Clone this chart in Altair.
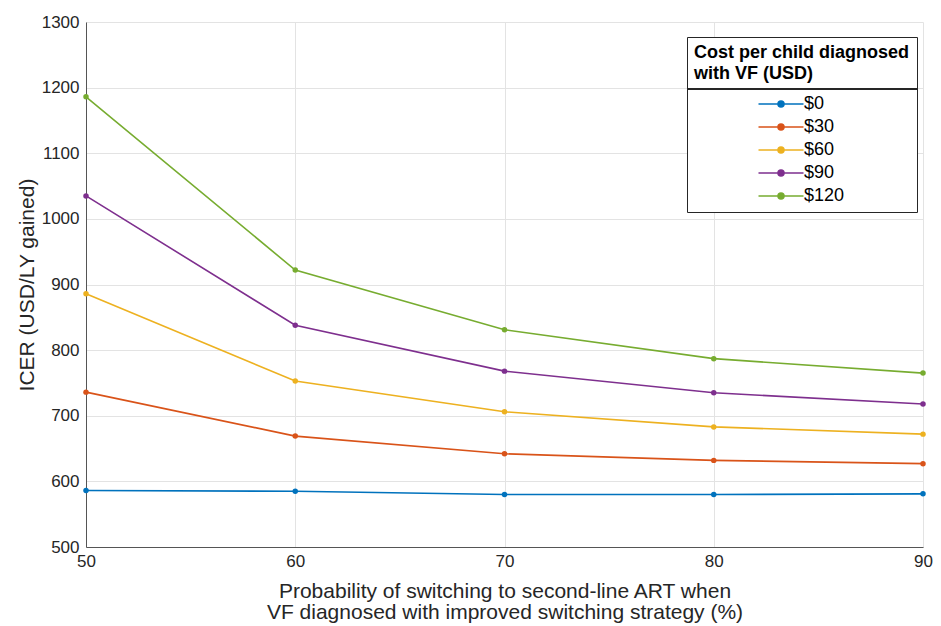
import altair as alt
import pandas as pd

# Data
prob = [50, 60, 70, 80, 90]
series_names = ["$0", "$30", "$60", "$90", "$120"]
icer_0 = [586, 585, 580, 580, 581]
icer_30 = [736, 669, 642, 632, 627]
icer_60 = [886, 753, 706, 683, 672]
icer_90 = [1035, 838, 768, 735, 718]
icer_120 = [1186, 922, 831, 787, 765]
colors = ["#0072BD", "#D95319", "#EDB120", "#7E2F8E", "#77AC30"]
y_ticks = [500, 600, 700, 800, 900, 1000, 1100, 1200, 1300]

rows = []
for name, vals in zip(series_names, [icer_0, icer_30, icer_60, icer_90, icer_120]):
    for p, v in zip(prob, vals):
        rows.append({"prob": p, "icer": v, "cost": name})
df = pd.DataFrame(rows)

FONT = "Liberation Sans"
W, H = 837, 525
LEG_X, LEG_Y, LEG_W, LEG_H = 601, 15, 230, 175

color = alt.Color(
    "cost:N",
    sort=series_names,
    scale=alt.Scale(domain=series_names, range=colors),
    legend=alt.Legend(
        orient="none",
        legendX=LEG_X,
        legendY=LEG_Y,
        title=["Cost per child diagnosed", "with VF (USD)"],
        titleFont=FONT,
        titleFontSize=18,
        titleFontWeight="bold",
        titleColor="#000000",
        titleLineHeight=21,
        titlePadding=12,
        titleLimit=400,
        labelFont=FONT,
        labelFontSize=18,
        labelColor="#000000",
        labelOffset=14,
        symbolType="M-4.5,0L4.5,0M-0.6,0A0.6,0.6,0,1,0,0.6,0A0.6,0.6,0,1,0,-0.6,0",
        symbolSize=100,
        symbolStrokeWidth=1.5,
        symbolOffset=78,
        rowPadding=5,
        padding=7,
        strokeColor="#262626",
    ),
)

x = alt.X(
    "prob:Q",
    scale=alt.Scale(domain=[50, 90], nice=False, zero=False),
    axis=alt.Axis(
        values=prob,
        title=[
            "Probability of switching to second-line ART when",
            "VF diagnosed with improved switching strategy (%)",
        ],
        titleLineHeight=21,
        titlePadding=11,
        titleFontSize=21,
        labelPadding=6,
        labelFlush=False,
    ),
)
y = alt.Y(
    "icer:Q",
    scale=alt.Scale(domain=[500, 1300], nice=False, zero=False),
    axis=alt.Axis(
        values=y_ticks,
        format="d",
        title="ICER (USD/LY gained)",
        titlePadding=4,
        titleFontSize=21,
        labelPadding=7,
    ),
)

lines = alt.Chart(df).mark_line(strokeWidth=1.6).encode(x=x, y=y, color=color)
points = alt.Chart(df).mark_point(filled=True, size=30, opacity=1).encode(
    x=x, y=y, color=color
)

# White background box and separator line for the legend
legend_bg = alt.Chart(df).mark_rect(color="white").encode(
    x=alt.value(LEG_X), x2=alt.value(LEG_X + LEG_W),
    y=alt.value(LEG_Y), y2=alt.value(LEG_Y + LEG_H),
)
legend_sep = alt.Chart(df).mark_rule(color="#262626", strokeWidth=1).encode(
    x=alt.value(LEG_X), x2=alt.value(LEG_X + LEG_W), y=alt.value(67)
)

chart = (
    alt.layer(legend_bg, lines, points, legend_sep)
    .properties(
        width=W,
        height=H,
        autosize=alt.AutoSizeParams(type="none"),
        padding={"left": 78, "top": 14, "right": 10, "bottom": 80},
    )
    .configure(font=FONT, background="white")
    .configure_view(stroke=None)
    .configure_axis(
        labelFont=FONT,
        titleFont=FONT,
        labelFontSize=17,
        labelColor="#262626",
        titleColor="#262626",
        titleFontWeight="normal",
        domainColor="#555555",
        domainWidth=1,
        ticks=False,
        tickSize=0,
        gridColor="#e3e3e3",
        gridWidth=1,
    )
)

chart.save("out.html", embed_options={"renderer": "svg", "actions": False})
